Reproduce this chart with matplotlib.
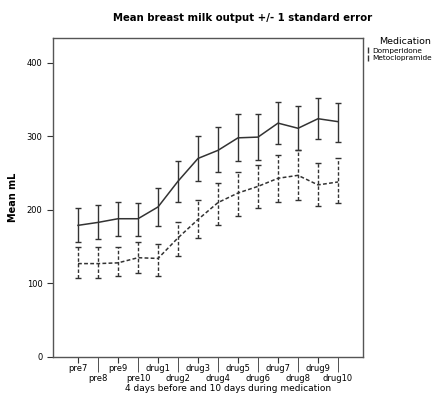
import matplotlib.pyplot as plt
from matplotlib.lines import Line2D
import numpy as np

days = ['pre7', 'pre8', 'pre9', 'pre10', 'drug1', 'drug2', 'drug3', 'drug4',
        'drug5', 'drug6', 'drug7', 'drug8', 'drug9', 'drug10']

# Domperidone: mean and +/- 1 SE
dom_mean = [179, 183, 188, 188, 204, 239, 270, 281, 298, 299, 318, 311, 324, 320]
dom_upper = [203, 206, 211, 210, 230, 267, 301, 313, 331, 330, 347, 341, 352, 346]
dom_lower = [156, 161, 164, 164, 178, 211, 239, 251, 266, 268, 290, 281, 297, 293]

# Metoclopramide
met_mean = [127, 127, 128, 135, 134, 162, 187, 210, 223, 232, 243, 247, 234, 238]
met_upper = [149, 149, 149, 157, 154, 183, 213, 237, 252, 261, 274, 281, 264, 270]
met_lower = [107, 108, 110, 114, 110, 138, 162, 180, 192, 202, 211, 214, 205, 209]

x = np.arange(len(days))
col = '#333333'

fig = plt.figure(figsize=(4.33, 3.96), dpi=100)
ax = fig.add_axes([0.1224, 0.0985, 0.716, 0.806])

def draw(mean, lower, upper, ls):
    mean = np.array(mean)
    err = [mean - np.array(lower), np.array(upper) - mean]
    eb = ax.errorbar(x, mean, yerr=err, color=col, lw=1.1, ls=ls,
                     elinewidth=1.0, capsize=2.5, capthick=1.0)
    for c in eb[2]:
        c.set_linestyle(ls)

draw(dom_mean, dom_lower, dom_upper, '-')
draw(met_mean, met_lower, met_upper, (0, (2.5, 1.5)))

ax.set_xlim(-1.25, 14.25)
ax.set_ylim(0, 434)
ax.set_yticks([0, 100, 200, 300, 400])
ax.tick_params(axis='y', labelsize=6, length=4, color=col)

ax.set_xticks(x[::2])
ax.set_xticklabels(days[::2], fontsize=6)
ax.set_xticks(x[1::2], minor=True)
ax.set_xticklabels(days[1::2], minor=True, fontsize=6)
ax.tick_params(axis='x', which='major', length=4, pad=1, color=col)
ax.tick_params(axis='x', which='minor', length=11, pad=1, color=col)

for s in ax.spines.values():
    s.set_color('#555555')
    s.set_linewidth(1.0)

ax.set_ylabel('Mean mL', fontsize=7, fontweight='bold', labelpad=6)
ax.set_xlabel('4 days before and 10 days during medication', fontsize=6.5)
ax.xaxis.set_label_coords(0.565, -0.085)
fig.text(0.561, 0.955, 'Mean breast milk output +/- 1 standard error', fontsize=7.3,
         fontweight='bold', ha='center', va='center')

handles = [Line2D([0], [0], color=col, lw=1.0, ls='', marker='$\\mathrm{I}$', markersize=4),
           Line2D([0], [0], color=col, lw=1.0, ls='', marker='$\\mathrm{I}$', markersize=4)]
leg = fig.legend(handles, ['Domperidone', 'Metoclopramide'], title='Medication',
                 loc='upper left', bbox_to_anchor=(0.845, 0.908), frameon=False,
                 fontsize=5.3, title_fontsize=6.8, handlelength=0.4, handletextpad=0.3,
                 labelspacing=0.2, borderpad=0.1, borderaxespad=0)
leg._legend_box.align = 'right'

fig.savefig('out.png', dpi=100)
